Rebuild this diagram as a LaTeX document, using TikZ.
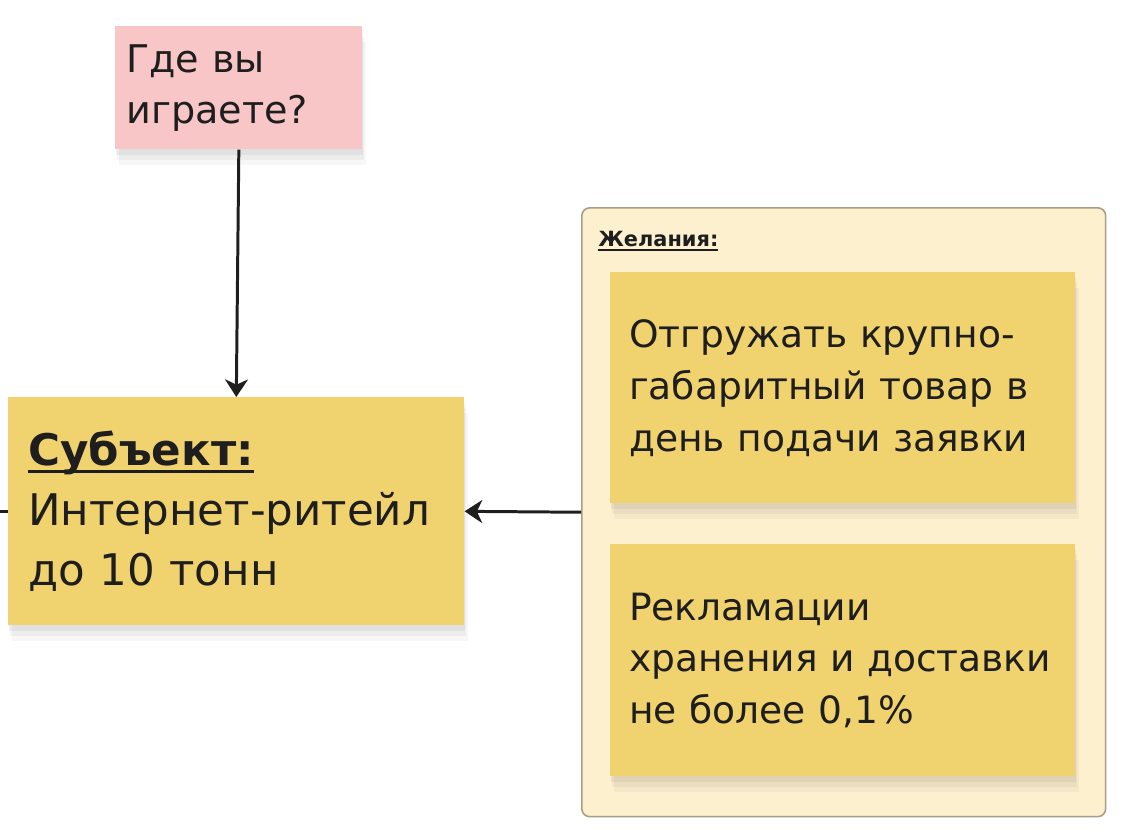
\documentclass[tikz,border=0pt]{standalone}
\usepackage{fontspec}
\setmainfont{DejaVu Sans}
\usepackage{tikz}
\usetikzlibrary{arrows.meta}
\usetikzlibrary{shadows}

\definecolor{notepink}{HTML}{F8C6C6}
\definecolor{noteyellow}{HTML}{F0D36F}
\definecolor{framefill}{HTML}{FDF0CF}
\definecolor{frameline}{HTML}{A89D86}
\definecolor{inkcol}{HTML}{1E1E1E}

% underline with a chosen depth and thickness
\newcommand{\headline}[3]{\setbox0\hbox{#3}\rlap{\raisebox{-#1}{\rule{\wd0}{#2}}}\box0}

\tikzset{
  softshadow/.style={
    general shadow={fill=black,opacity=0.03,shadow yshift=-9pt,shadow xshift=2pt},
    general shadow={fill=black,opacity=0.04,shadow yshift=-6pt,shadow xshift=1pt},
    general shadow={fill=black,opacity=0.05,shadow yshift=-3pt,shadow xshift=0.5pt}},
  note/.style={rectangle,anchor=north west,align=left,text=inkcol,
    inner xsep=0.375cm,softshadow},
  link/.style={draw=inkcol,line width=1.7pt,
    -{Stealth[length=10pt,width=13pt,inset=3pt]}}
}

\begin{document}
\begin{tikzpicture}[x=0.02cm,y=-0.02cm]
            % Page size of the reference
            \useasboundingbox (0,0) rectangle (1128,832);

            % Corner points of the boxes
            \coordinate (C00) at (115,26);
            \coordinate (C10) at (8,397);
            \coordinate (C20) at (581,207);
            \coordinate (C21) at (610,272);
            \coordinate (C22) at (610,544);
            \coordinate (offleft) at (0,511);

            % Draw the frame of wishes
            \node[rectangle,anchor=north west,draw=frameline,line width=0.9pt,
                  fill=framefill,rounded corners=0.16cm,
                  minimum width=10.48cm,minimum height=12.18cm] (wishes) at (C20) {};
            \node[anchor=base west,text=inkcol,inner sep=0pt,
                  font=\fontsize{11.9}{14}\selectfont\bfseries]
                  (wisheslabel) at (598,246) {\headline{2.6pt}{0.9pt}{Желания:}};

            % Draw the notes
            \node[note,fill=notepink,inner xsep=0.22cm,text width=4.5cm,
                  minimum width=4.94cm,minimum height=2.46cm,
                  font=\fontsize{21.7}{29}\selectfont] (where) at (C00)
                  {Где вы\\играете?};
            \node[note,fill=noteyellow,inner xsep=0.4cm,text width=8.32cm,
                  minimum width=9.12cm,minimum height=4.56cm,
                  font=\fontsize{24.8}{34}\selectfont] (subject) at (C10)
                  {\headline{4.2pt}{1.7pt}{\textbf{Субъект:}}\\Интернет-ритейл\\до 10 тонн};
            \node[note,fill=noteyellow,text width=8.55cm,
                  minimum width=9.3cm,minimum height=4.62cm,
                  font=\fontsize{21.4}{29.5}\selectfont] (wish1) at (C21)
                  {Отгружать крупно-\\габаритный товар в\\день подачи заявки};
            \node[note,fill=noteyellow,text width=8.55cm,
                  minimum width=9.3cm,minimum height=4.64cm,
                  font=\fontsize{21.4}{29.5}\selectfont] (wish2) at (C22)
                  {Рекламации\\\mbox{хранения и доставки}\\не более 0,1\%};

            % Draw the links
            \draw[link] (where.south) -- (subject.north);
            \draw[link] (wishes.west) -- (subject.east);
            \draw[draw=inkcol,line width=1.7pt] (offleft) -- (offleft -| subject.west);
\end{tikzpicture}
\end{document}
